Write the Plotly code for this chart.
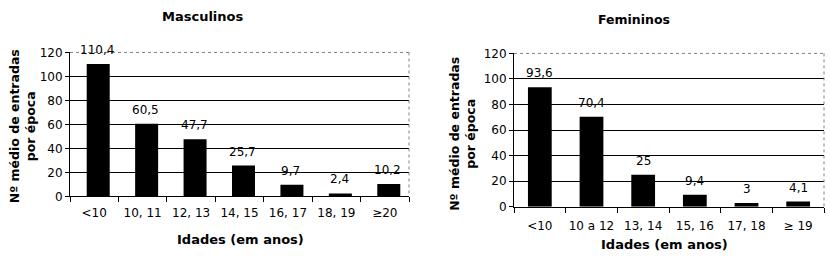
import plotly.graph_objects as go

masc_categories = ["<10", "10, 11", "12, 13", "14, 15", "16, 17", "18, 19", "≥20"]
masc_values = [110.4, 60.5, 47.7, 25.7, 9.7, 2.4, 10.2]
fem_categories = ["<10", "10 a 12", "13, 14", "15, 16", "17, 18", "≥ 19"]
fem_values = [93.6, 70.4, 25, 9.4, 3, 4.1]
y_ticks = [0, 20, 40, 60, 80, 100, 120]

FONT = "DejaVu Sans"

def fmt(v):
    return ("%g" % v).replace(".", ",")

W, H = 830, 263
L1, R1, T1, B1 = 70, 409, 48, 200
L2, R2, T2, B2 = 514, 824, 49, 211

cat_w1 = (R1 - L1) / len(masc_categories)
shift1 = 4 / cat_w1

fig = go.Figure()
fig.add_trace(go.Bar(x=masc_categories, y=masc_values, xaxis="x", yaxis="y",
                     marker=dict(color="black", line=dict(width=0)), width=0.475,
                     offset=-0.2375 + shift1, showlegend=False, hoverinfo="x+y"))
fig.add_trace(go.Bar(x=fem_categories, y=fem_values, xaxis="x2", yaxis="y2",
                     marker=dict(color="black", line=dict(width=0)), width=0.46,
                     showlegend=False, hoverinfo="x+y"))

def px(x):
    return x / W

def py(y):
    return 1 - y / H

tick_font = dict(family=FONT, size=12, color="black")
common_x = dict(type="category", showline=True, linecolor="black", linewidth=1,
                ticks="outside", tickson="boundaries", ticklen=5, tickcolor="black",
                showgrid=False, tickfont=tick_font, tickangle=0,
                fixedrange=True)
common_y = dict(range=[0, 120], tickvals=y_ticks, showline=True, linecolor="black",
                linewidth=1, ticks="outside", ticklen=4, tickcolor="black",
                showgrid=True, gridcolor="black", gridwidth=1, zeroline=False,
                tickfont=tick_font, fixedrange=True)

fig.update_layout(
    width=W, height=H, margin=dict(l=0, r=0, t=0, b=0),
    paper_bgcolor="white", plot_bgcolor="white",
    xaxis=dict(domain=[px(L1), px(R1)], anchor="y", ticklabelstandoff=5, **common_x),
    yaxis=dict(domain=[py(B1), py(T1)], anchor="x", **common_y),
    xaxis2=dict(domain=[px(L2), px(R2)], anchor="y2", ticklabelstandoff=8, **common_x),
    yaxis2=dict(domain=[py(B2), py(T2)], anchor="x2", **common_y),
    font=dict(family=FONT, color="black"),
)

shapes = []
for (L, R, T, B) in [(L1, R1, T1, B1), (L2, R2, T2, B2)]:
    shapes.append(dict(type="line", xref="paper", yref="paper", x0=px(L), x1=px(R),
                       y0=py(T), y1=py(T), line=dict(color="#808080", width=1, dash="dot")))
    shapes.append(dict(type="line", xref="paper", yref="paper", x0=px(R), x1=px(R),
                       y0=py(T), y1=py(B), line=dict(color="#808080", width=1, dash="dot")))
fig.update_layout(shapes=shapes)

bold = dict(family=FONT, size=13, color="black")
ann = [
    dict(text="<b>Masculinos</b>", x=px(203), y=py(10), font=bold),
    dict(text="<b>Femininos</b>", x=px(634), y=py(13), font=dict(family=FONT, size=12.5, color="black")),
    dict(text="<b>Idades (em anos)</b>", x=px(240), y=py(246), font=bold),
    dict(text="<b>Idades (em anos)</b>", x=px(664), y=py(251), font=bold),
    dict(text="<b>Nº médio de entradas<br>por época</b>", x=px(22), y=py(126), textangle=-90,
         font=dict(family=FONT, size=12.5, color="black")),
    dict(text="<b>Nº médio de entradas<br>por época</b>", x=px(463), y=py(134), textangle=-90,
         font=dict(family=FONT, size=12.5, color="black")),
]
for a in ann:
    a.update(xref="paper", yref="paper", showarrow=False, xanchor="center", yanchor="middle")

lab_font = dict(family=FONT, size=12, color="black")
for c, v in zip(masc_categories, masc_values):
    ann.append(dict(x=c, y=v, xref="x", yref="y", text=fmt(v), showarrow=False,
                    xanchor="center", yanchor="bottom", yshift=5, xshift=3, font=lab_font))
for c, v in zip(fem_categories, fem_values):
    ann.append(dict(x=c, y=v, xref="x2", yref="y2", text=fmt(v), showarrow=False,
                    xanchor="center", yanchor="bottom", yshift=5, font=lab_font))
fig.update_layout(annotations=ann)

fig.write_html("out.html", config={"displayModeBar": False},
               post_script="document.body.style.margin='0';document.body.style.overflow='hidden';")
